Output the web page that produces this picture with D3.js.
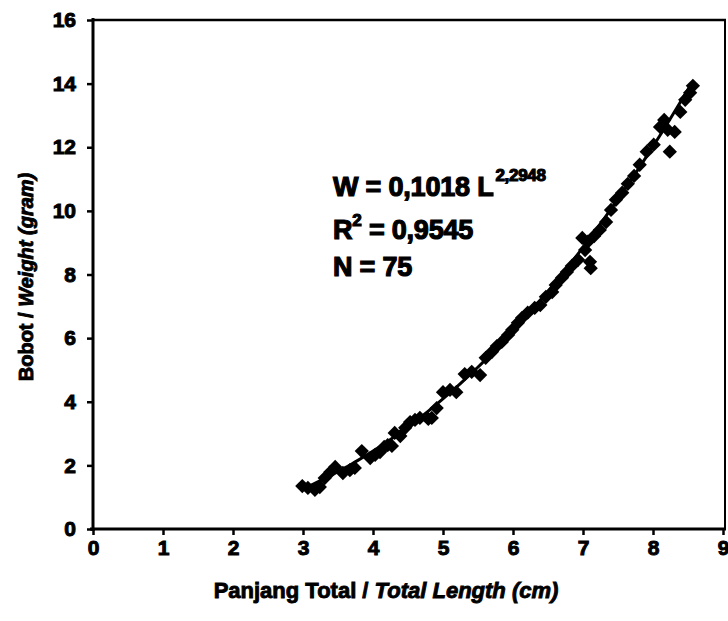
<!DOCTYPE html>
<html><head><meta charset="utf-8">
<script src="https://cdn.jsdelivr.net/npm/d3@7"></script>
<style>
html,body{margin:0;padding:0;background:#fff;}
text{font-family:"Liberation Sans",Arial,sans-serif;font-weight:bold;fill:#000;}
</style></head>
<body><svg id="c" width="728" height="621"></svg>
<script>
// Data
const lengthCm = [2.99,3.07,3.17,3.24,3.31,3.39,3.46,3.57,3.67,3.74,3.84,3.96,4.03,4.10,4.16,4.21,4.27,4.31,4.39,4.46,4.53,4.60,4.67,4.79,4.84,4.91,5.00,5.10,5.19,5.31,5.41,5.53,5.61,5.70,5.77,5.84,5.93,5.99,6.07,6.13,6.21,6.31,6.39,6.47,6.56,6.61,6.70,6.77,6.84,6.93,6.99,7.07,7.03,7.10,7.11,7.16,7.24,7.33,7.40,7.47,7.56,7.64,7.73,7.81,7.91,8.01,8.10,8.16,8.21,8.24,8.31,8.39,8.46,8.53,8.57];
const weightG  = [1.35,1.29,1.23,1.32,1.60,1.79,1.95,1.76,1.85,1.92,2.45,2.23,2.33,2.42,2.58,2.64,2.61,3.02,2.92,3.18,3.36,3.43,3.49,3.46,3.49,3.80,4.30,4.37,4.30,4.87,4.94,4.84,5.38,5.57,5.75,5.88,6.10,6.26,6.48,6.64,6.80,6.95,7.04,7.30,7.45,7.67,7.90,8.08,8.27,8.46,9.15,9.03,8.77,8.40,8.20,9.21,9.40,9.65,10.03,10.35,10.57,10.85,11.10,11.45,11.86,12.08,12.64,12.86,12.55,11.86,12.48,13.11,13.49,13.71,13.93];
const xTicks = [0,1,2,3,4,5,6,7,8,9];
const yTicks = [0,2,4,6,8,10,12,14,16];
const fitCoef = [0.1018, 2.2948]; // W = a L^b
const eqLines = ["W = 0,1018 L", "R", "N = 75"];

const svg = d3.select("#c");
svg.append("rect").attr("width",728).attr("height",621).attr("fill","#fff");

const x = d3.scaleLinear().domain([0,9]).range([93,723]);
const y = d3.scaleLinear().domain([0,16]).range([529,20]);

// frame top/right
svg.append("line").attr("x1",93).attr("x2",726).attr("y1",20).attr("y2",20).attr("stroke","#000").attr("stroke-width",2.5);
svg.append("line").attr("x1",725).attr("x2",725).attr("y1",20).attr("y2",529).attr("stroke","#000").attr("stroke-width",2);

const xAxis = svg.append("g").attr("transform","translate(0,529)")
  .call(d3.axisBottom(x).tickValues(xTicks).tickSize(6).tickPadding(5).tickFormat(d3.format("d")));
const yAxis = svg.append("g").attr("transform","translate(93,0)")
  .call(d3.axisLeft(y).tickValues(yTicks).tickSize(6).tickPadding(11).tickFormat(d3.format("d")));
[xAxis,yAxis].forEach(a=>{
  a.attr("font-size",null).attr("font-family",null);
  a.select(".domain").attr("stroke","#000").attr("stroke-width",3);
  a.selectAll(".tick line").attr("stroke","#000").attr("stroke-width",2.5);
  a.selectAll("text").style("font-size","21px").style("font-family","Liberation Sans, Arial").style("font-weight","bold").attr("fill","#000").attr("stroke","#000").attr("stroke-width",1);
});
yAxis.select(".domain").attr("d","M0,18V531");
xAxis.select(".domain").attr("d","M90,0H726");

// trendline
const L0 = d3.min(lengthCm), L1 = d3.max(lengthCm);
const fit = d3.range(L0, L1+0.001, 0.05).map(L=>[L, fitCoef[0]*Math.pow(L,fitCoef[1])]);
svg.append("path").datum(fit).attr("fill","none").attr("stroke","#000").attr("stroke-width",3)
  .attr("d", d3.line().x(d=>x(d[0])).y(d=>y(d[1])));

// points
const sym = d3.symbol().type(d3.symbolDiamond2).size(130);
svg.append("g").selectAll("path").data(lengthCm.map((L,i)=>[L,weightG[i]])).join("path")
  .attr("transform",d=>`translate(${x(d[0])},${y(d[1])})`)
  .attr("d",sym).attr("fill","#000");

// equation
const eq = svg.append("g").attr("stroke","#000").attr("stroke-width",1.2);
const t1 = eq.append("text").attr("x",333).attr("y",196).style("font-size","27px").style("letter-spacing","-0.2px");
t1.append("tspan").text(eqLines[0]);
t1.append("tspan").attr("dx",2).attr("dy",-15).style("font-size","17px").style("letter-spacing","-0.3px").text("2,2948");
const t2 = eq.append("text").attr("x",333).attr("y",239).style("font-size","27px").style("letter-spacing","-0.2px");
t2.append("tspan").text(eqLines[1]);
t2.append("tspan").attr("dy",-13).style("font-size","17px").text("2");
t2.append("tspan").attr("dy",13).text(" = 0,9545");
eq.append("text").attr("x",333).attr("y",276).style("font-size","27px").style("letter-spacing","-0.2px").text(eqLines[2]);

// axis titles
const xt = svg.append("text").attr("x",386).attr("y",598).attr("text-anchor","middle").style("font-size","22px").attr("stroke","#000").attr("stroke-width",0.9);
xt.append("tspan").text("Panjang Total / ");
xt.append("tspan").style("font-style","italic").text("Total Length (cm)");
const yt = svg.append("text").attr("transform","translate(33,277) rotate(-90)").attr("text-anchor","middle").style("font-size","20px").attr("stroke","#000").attr("stroke-width",0.9);
yt.append("tspan").text("Bobot / ");
yt.append("tspan").style("font-style","italic").text("Weight (gram)");
</script></body></html>
